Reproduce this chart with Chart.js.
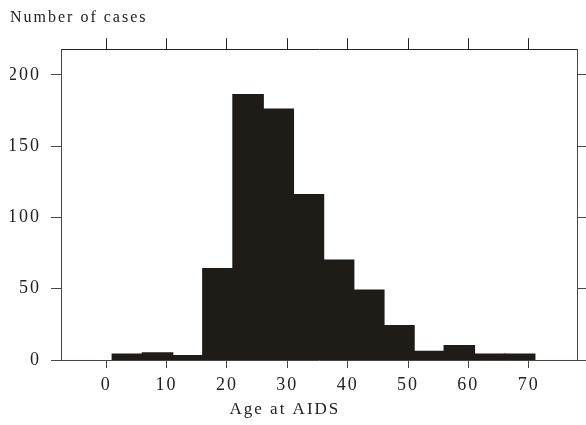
<!DOCTYPE html>
<html>
<head>
<meta charset="utf-8">
<script src="https://cdn.jsdelivr.net/npm/chart.js@4/dist/chart.umd.min.js"></script>
<style>
  html, body { margin: 0; padding: 0; background: #fff; }
  #wrap { width: 586px; height: 425px; }
</style>
</head>
<body>
<div id="wrap"><canvas id="c" width="586" height="425"></canvas></div>
<script>
// histogram bins (lower edge of each 5-year bin) and counts
const binLow = [1, 6, 11, 16, 21, 26, 31, 36, 41, 46, 51, 56, 61, 66];
const binWidth = 5;
const counts = [4, 5, 3, 64, 186, 176, 116, 70, 49, 24, 6, 10, 4, 4];
const xTicks = [0, 10, 20, 30, 40, 50, 60, 70];
const yTicks = [0, 50, 100, 150, 200];

const FONT = "'Liberation Serif', 'Times New Roman', serif";
const AXIS = '#4a4542';

const spacing = {
  id: 'spacing',
  beforeInit(chart) { chart.ctx.letterSpacing = '2px'; },
  beforeDraw(chart) { chart.ctx.letterSpacing = '2px'; },
  afterDraw(chart) {
    // x axis caption, sits under the bars' centre
    const ctx = chart.ctx;
    const x = chart.scales.x;
    ctx.save();
    ctx.letterSpacing = '2px';
    ctx.font = '17px ' + FONT;
    ctx.fillStyle = '#222';
    ctx.textAlign = 'center';
    ctx.textBaseline = 'middle';
    ctx.fillText('Age at AIDS', x.getPixelForValue(29.6), 410);
    ctx.restore();
  }
};

const fixedTicks = vals => scale => {
  scale.ticks = vals.map(v => ({ value: v }));
};

new Chart(document.getElementById('c'), {
  type: 'bar',
  data: {
    datasets: [{
      data: binLow.map((lo, i) => ({ x: lo + binWidth / 2, y: counts[i] })),
      backgroundColor: '#1f1b17',
      borderWidth: 0,
      inflateAmount: 0.7,
      barPercentage: 1,
      categoryPercentage: 1
    }]
  },
  options: {
    responsive: false,
    animation: false,
    layout: { padding: { left: 10, right: 0, top: 0, bottom: 0 } },
    plugins: {
      legend: { display: false },
      tooltip: { enabled: false },
      title: {
        display: true,
        text: 'Number of cases',
        align: 'start',
        color: '#222',
        font: { family: FONT, size: 16, weight: 'normal' },
        padding: { top: 8, bottom: 11 }
      }
    },
    scales: {
      x: {
        type: 'linear',
        position: 'bottom',
        min: -7.5,
        max: 78,
        offset: false,
        afterBuildTicks: fixedTicks(xTicks),
        afterFit: s => { s.height = 65; },
        ticks: { color: '#222', font: { family: FONT, size: 18 }, padding: 6 },
        grid: { drawOnChartArea: false, tickLength: 8, tickColor: AXIS, offset: false },
        border: { color: AXIS, width: 1 }
      },
      x2: {
        type: 'linear',
        position: 'top',
        min: -7.5,
        max: 78,
        offset: false,
        afterBuildTicks: fixedTicks(xTicks),
        afterFit: s => { s.height = 11; },
        ticks: { display: false },
        grid: { drawOnChartArea: false, tickLength: 11, tickColor: '#222', offset: false },
        border: { color: '#222', width: 1 }
      },
      y: {
        position: 'left',
        min: 0,
        max: 218,
        afterBuildTicks: fixedTicks(yTicks),
        afterFit: s => { s.width = 51; },
        ticks: { color: '#222', font: { family: FONT, size: 18 }, padding: 10 },
        grid: { drawOnChartArea: false, tickLength: 10, tickColor: AXIS },
        border: { color: AXIS, width: 1 }
      },
      y2: {
        position: 'right',
        min: 0,
        max: 218,
        afterBuildTicks: fixedTicks(yTicks),
        afterFit: s => { s.width = 9; },
        ticks: { display: false },
        grid: { drawOnChartArea: false, tickLength: 9, tickColor: AXIS },
        border: { color: AXIS, width: 1 }
      }
    }
  },
  plugins: [spacing]
});
</script>
</body>
</html>
